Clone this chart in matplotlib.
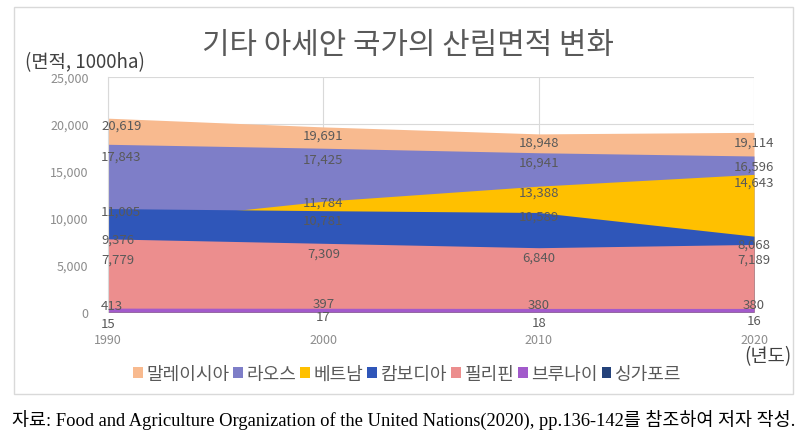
import numpy as np
import matplotlib
matplotlib.use("Agg")
import matplotlib.pyplot as plt
from matplotlib.patches import Rectangle, Patch

plt.rcParams['font.family'] = ['Noto Sans CJK KR', 'DejaVu Sans']

years = ['1990', '2000', '2010', '2020']
countries = ['말레이시아', '라오스', '베트남', '캄보디아', '필리핀', '브루나이', '싱가포르']

malaysia = [20619, 19691, 18948, 19114]
laos = [17843, 17425, 16941, 16596]
vietnam = [9376, 11784, 13388, 14643]
cambodia = [11005, 10781, 10589, 8068]
philippines = [7779, 7309, 6840, 7189]
brunei = [413, 397, 380, 380]
singapore = [15, 17, 18, 16]

series = [malaysia, laos, vietnam, cambodia, philippines, brunei, singapore]
colors = ['#F8BA8F', '#7E7EC8', '#FFC000', '#2F56B9', '#EC8E8E', '#A25ACB', '#24427A']
# label shift below each point, in pixels (Excel puts them a bit under the value)
label_dy = [
    [7, 8, 8, 10],
    [12, 11, 9, 10],
    [15, 1, 6, 8],
    [3, 9, 4, 8],
    [20, 10, 9, 15],
    [-3, -5, -4, -4],
    [12, 5, 11, 9],
]

fig = plt.figure(figsize=(8.08, 4.39), dpi=100)
ax = fig.add_axes([108 / 808, 1 - 313 / 439, (754 - 108) / 808, (313 - 78) / 439])

x = np.arange(len(years))
for vals, c in zip(series, colors):
    ax.fill_between(x, 0, vals, color=c, linewidth=0, zorder=2)

for vals, dys in zip(series, label_dy):
    for xi, v, dy in zip(x, vals, dys):
        # first column labels sit pushed to the right of the axis line
        if xi == 0 and v > 100:
            ha, dx = 'left', -7
        else:
            ha, dx = 'center', 0
        ax.annotate(f'{v:,}', (xi, v), xytext=(dx, -dy), textcoords='offset pixels',
                    ha=ha, va='center', fontsize=9.5, color='#595959', zorder=5)

ax.set_xlim(0, 3)
ax.set_ylim(0, 25000)
ax.set_yticks(np.arange(0, 25001, 5000))
ax.set_yticklabels([f'{v:,}' for v in range(0, 25001, 5000)])
ax.set_xticks(x)
ax.set_xticklabels(years)
ax.tick_params(axis='y', length=0, pad=14, labelsize=9, labelcolor='#8C8C8C')
ax.tick_params(axis='x', length=0, pad=15, labelsize=9, labelcolor='#8C8C8C')
ax.grid(True, color='#D9D9D9', linewidth=0.8, zorder=0)
ax.set_axisbelow(True)
for s in ['top', 'right', 'bottom']:
    ax.spines[s].set_visible(False)
ax.spines['left'].set_color('#D9D9D9')

fig.text(0.505, 1 - 45 / 439, '기타 아세안 국가의 산림면적 변화', ha='center', va='center',
         fontsize=21.5, color='#595959')
fig.text(25 / 808, 1 - 63 / 439, '(면적, 1000ha)', ha='left', va='center',
         fontsize=13.5, color='#404040')
fig.text(791 / 808, 1 - 357 / 439, '(년도)', ha='right', va='center',
         fontsize=13.5, color='#404040')

handles = [Patch(facecolor=c, edgecolor='none') for c in colors]
fig.legend(handles, countries, loc='center', bbox_to_anchor=(0.504, 1 - 375 / 439),
           ncol=7, frameon=False, fontsize=13, handlelength=0.55, handleheight=0.55,
           handletextpad=0.2, columnspacing=0.2, labelcolor='#595959')

fig.patches.append(Rectangle((14 / 808, 1 - 395 / 439), (793 - 14) / 808, (395 - 8) / 439,
                             transform=fig.transFigure, fill=False,
                             edgecolor='#D9D9D9', linewidth=1))

fig.text(0.5, 1 - 420 / 439,
         '자료: Food and Agriculture Organization of the United Nations(2020), pp.136-142를 참조하여 저자 작성.',
         ha='center', va='center', fontsize=13.3, color='#000000',
         family=['Liberation Serif', 'Noto Sans CJK KR'])

fig.savefig('out.png', dpi=100)
